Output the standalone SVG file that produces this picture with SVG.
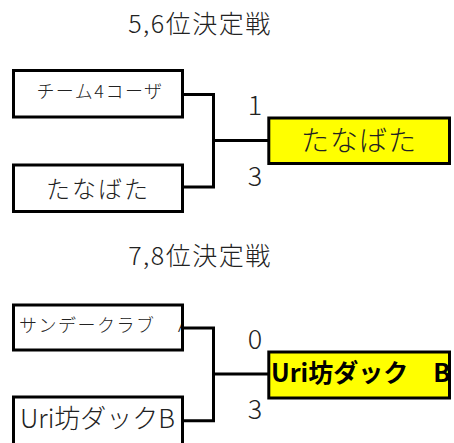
<svg xmlns="http://www.w3.org/2000/svg" width="454" height="443" viewBox="0 0 454 443">
<style>
text{font-family:"Noto Sans CJK JP","Noto Sans",sans-serif;fill:#222;font-weight:300}
.box{fill:#fff;stroke:#000;stroke-width:3}
.win{fill:#ffff00;stroke:#000;stroke-width:3}
.con{fill:none;stroke:#000;stroke-width:3}
.title{font-size:25px;letter-spacing:1.5px;text-anchor:middle}
.score{font-size:27px;text-anchor:middle}
</style>
<defs>
<clipPath id="c3"><rect x="15" y="306" width="166" height="43"/></clipPath>
<clipPath id="c4"><rect x="15" y="398" width="166" height="45"/></clipPath>
<clipPath id="c6"><rect x="270" y="353" width="178" height="44"/></clipPath>
</defs>
<text class="title" x="200" y="33">5,6位決定戦</text>
<text class="title" x="200" y="265">7,8位決定戦</text>
<g id="connectors">
<polyline class="con" points="182,94.5 213.5,94.5 213.5,187 182,187"/>
<line class="con" x1="213.5" y1="140.5" x2="268" y2="140.5"/>
<polyline class="con" points="182,328 213.5,328 213.5,420.7 182,420.7"/>
<line class="con" x1="213.5" y1="374" x2="268" y2="374"/>
</g>
<g id="n1"><rect class="box" x="13.5" y="70.5" width="169" height="46.5"/><text x="100" y="98" font-size="18" letter-spacing="1.5" text-anchor="middle">チーム4コーザ</text></g>
<g id="n2"><rect class="box" x="13.5" y="165" width="169" height="46.5"/><text x="98" y="198" font-size="24" letter-spacing="2" text-anchor="middle">たなばた</text></g>
<g id="n3"><rect class="win" x="268.8" y="118" width="180.7" height="45.5"/><text x="359" y="151" font-size="28" letter-spacing="1" text-anchor="middle">たなばた</text></g>
<g id="s1"><text class="score" x="255" y="115">1</text><text class="score" x="255" y="186">3</text></g>
<g id="n4"><rect class="box" x="13.5" y="305" width="169" height="45"/><text x="19" y="332" font-size="18" letter-spacing="1.5" clip-path="url(#c3)">サンデークラブ　Ａ</text></g>
<g id="n5"><rect class="box" x="13.5" y="397" width="169" height="50"/><text x="20" y="428" font-size="26" clip-path="url(#c4)">Uri坊ダックB</text></g>
<g id="n6"><rect class="win" x="268.8" y="352" width="180.7" height="46"/><text x="271" y="381.5" font-size="25" style="fill:#000;font-weight:bold" clip-path="url(#c6)">Uri坊ダック　B</text></g>
<g id="s2"><text class="score" x="255" y="348.5">0</text><text class="score" x="255" y="418.5">3</text></g>
</svg>
